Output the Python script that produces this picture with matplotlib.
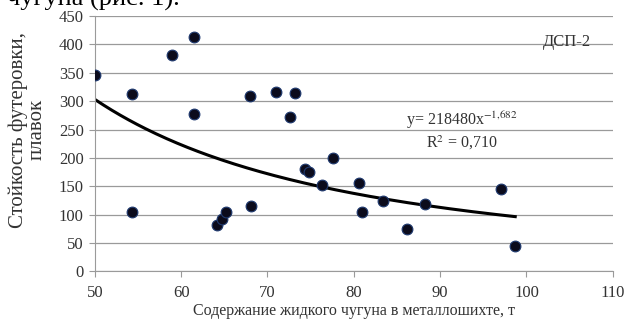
import numpy as np
import matplotlib.pyplot as plt

plt.rcParams['font.family'] = ['Liberation Serif', 'DejaVu Serif']
plt.rcParams['mathtext.fontset'] = 'stix'

# data
iron = [50.0, 54.3, 54.3, 58.9, 61.5, 61.5, 64.2, 64.7, 65.2, 68.0, 68.1,
        71.0, 72.6, 73.2, 74.3, 74.8, 76.3, 77.6, 80.6, 80.9, 83.4, 86.2,
        88.2, 97.0, 98.7]
life = [347, 312, 104, 381, 414, 277, 82, 93, 104, 309, 115,
        316, 272, 314, 181, 176, 152, 200, 155, 104, 124, 75,
        118, 145, 44]

# trend y = a * x^b
a_coef = 218480
b_coef = -1.682
x_fit = np.linspace(min(iron), max(iron), 200)
y_fit = a_coef * x_fit ** b_coef

fig = plt.figure(figsize=(6.24, 3.22), dpi=100)
ax = fig.add_axes([0.152, 0.157, 0.83, 0.793])

ax.set_xlim(50, 110)
ax.set_ylim(0, 450)
ax.set_xticks(range(50, 111, 10))
ax.set_yticks(range(0, 451, 50))
ax.grid(axis='y', color='#9a9a9a', linewidth=0.9)
ax.set_axisbelow(True)

for side in ['top', 'right']:
    ax.spines[side].set_visible(False)
for side in ['left', 'bottom']:
    ax.spines[side].set_color('#9a9a9a')
ax.tick_params(axis='both', colors='#9a9a9a', labelcolor='#333333', labelsize=12)
ax.tick_params(axis='y', length=4, pad=4)
ax.tick_params(axis='x', length=4, pad=6)

ax.plot(x_fit, y_fit, color='black', linewidth=2.2, zorder=2)
ax.scatter(iron, life, s=60, color='#0b0b1c', edgecolors='#1f3a70', linewidths=0.8, zorder=3)

ax.set_xlabel('Содержание жидкого чугуна в металлошихте, т', fontsize=11.5, color='#333333', labelpad=1)
ax.set_ylabel('Стойкость футеровки,\nплавок', fontsize=15, color='#333333', linespacing=0.95)
ax.yaxis.set_label_coords(-0.093, 0.555)

ax.text(104.7, 405, 'ДСП-2', fontsize=12, color='#333333', ha='center', va='center')
ax.text(92.5, 266, 'y= 218480x$^{-1{,}682}$', fontsize=11.5, color='#333333', ha='center', va='center')
ax.text(92.5, 226, 'R$^2$ = 0,710', fontsize=11.5, color='#333333', ha='center', va='center')

fig.text(0.012, 1 - 6 / 322, 'чугуна (рис. 1).', fontsize=19, color='black', va='baseline')

fig.savefig('out.png', dpi=100)
